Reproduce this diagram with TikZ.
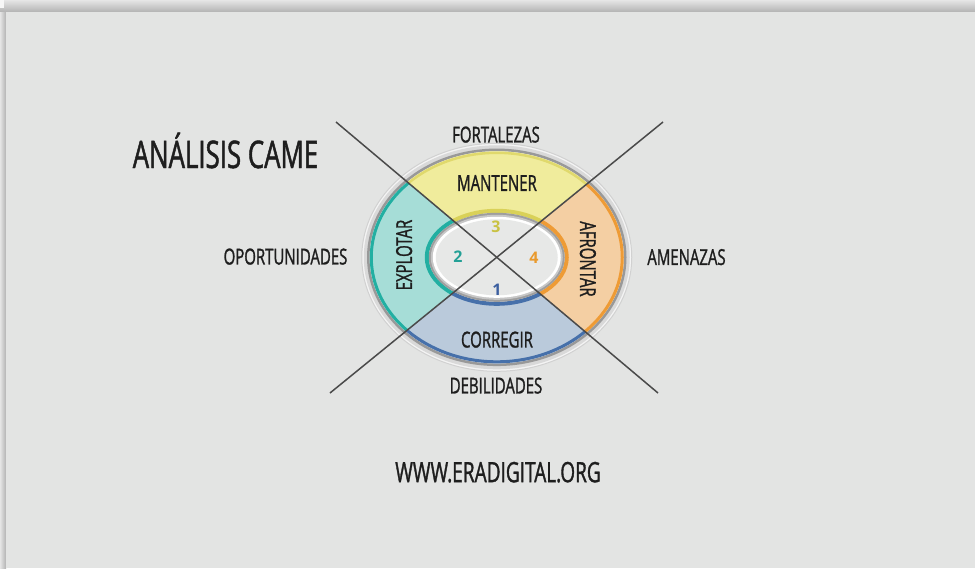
\documentclass[tikz,border=0pt]{standalone}
\usepackage{fontspec}
\newfontfamily\hand[FakeStretch=0.68,FakeBold=1.2]{Open Sans}
\newfontfamily\numfont{Open Sans}
\definecolor{bg}{HTML}{E3E4E3}
\definecolor{ink}{HTML}{1E1E1E}
\definecolor{linec}{HTML}{4A4A4A}
\definecolor{yelF}{HTML}{F0EC9C}
\definecolor{yelB}{HTML}{D9D158}
\definecolor{oraF}{HTML}{F4CFA3}
\definecolor{oraB}{HTML}{EE9B35}
\definecolor{bluF}{HTML}{BACADB}
\definecolor{bluB}{HTML}{4670AA}
\definecolor{teaF}{HTML}{A6DDD7}
\definecolor{teaB}{HTML}{22AFA2}
\definecolor{inF}{HTML}{E7E8E7}
\definecolor{n3}{HTML}{C9C243}
\definecolor{n2}{HTML}{23A096}
\definecolor{n4}{HTML}{E99A2E}
\definecolor{n1}{HTML}{3C5FA0}
\begin{document}
\begin{tikzpicture}[x=1pt,y=-1pt,
  lbl/.style={font=\hand\fontsize{22}{22}\selectfont, text=ink, inner sep=0pt, text depth=0pt},
  title/.style={font=\hand\fontsize{38}{38}\selectfont, text=ink, inner sep=0pt},
  web/.style={font=\hand\fontsize{28}{28}\selectfont, text=ink, inner sep=0pt, text depth=0pt},
  num/.style={font=\numfont\bfseries\fontsize{16}{16}\selectfont, inner sep=0pt, text depth=0pt},
  crossline/.style={draw=linec, line width=1.5pt},
  outerE/.style={x radius=127pt, y radius=106pt},
  innerE/.style={x radius=70pt, y radius=46.5pt}]
\useasboundingbox (0,0) rectangle (975,568);
% page and shadow
\fill[black!10] (0,0) rectangle (975,568);
\shade[top color=black!10, bottom color=black!30] (0,0) rectangle (975,12);
\shade[left color=black!10, right color=black!30] (0,12) rectangle (6,568);
\fill[white!70!black!10] (0,0) rectangle (4,8);
\fill[bg] (6,12) rectangle (975,568);
% key points
\coordinate (P1) at (336,122);
\coordinate (P2) at (663,122);
\coordinate (P3) at (658,393);
\coordinate (P4) at (330,393);
\coordinate (C) at (intersection of P1--P3 and P2--P4);
% halo
\fill[white!60!bg, draw=black!18, line width=1pt] (C) ellipse [x radius=135pt, y radius=114pt];
\draw[black!15, line width=6pt] (C) ellipse [x radius=130pt, y radius=109pt];
\draw[black!40, line width=2.5pt] (C) ellipse [x radius=128.5pt, y radius=107.5pt];
% sectors
\begin{scope}
  \clip (C) -- (P1) -- (P2) -- cycle;
  \fill[yelF, even odd rule] (C) ellipse [outerE] (C) ellipse [innerE];
  \draw[yelB!70!yelF, line width=2.5pt] (C) ellipse [x radius=125.5pt, y radius=104.5pt];
  \draw[yelB, line width=4pt] (C) ellipse [innerE];
\end{scope}
\begin{scope}
  \clip (C) -- (P2) -- (P3) -- cycle;
  \fill[oraF, even odd rule] (C) ellipse [outerE] (C) ellipse [innerE];
  \draw[oraB, line width=3pt] (C) ellipse [x radius=125.5pt, y radius=104.5pt];
  \draw[oraB, line width=4pt] (C) ellipse [innerE];
\end{scope}
\begin{scope}
  \clip (C) -- (P3) -- (P4) -- cycle;
  \fill[bluF, even odd rule] (C) ellipse [outerE] (C) ellipse [innerE];
  \draw[bluB, line width=3pt] (C) ellipse [x radius=125.5pt, y radius=104.5pt];
  \draw[bluB, line width=4pt] (C) ellipse [innerE];
\end{scope}
\begin{scope}
  \clip (C) -- (P4) -- (P1) -- cycle;
  \fill[teaF, even odd rule] (C) ellipse [outerE] (C) ellipse [innerE];
  \draw[teaB, line width=3pt] (C) ellipse [x radius=125.5pt, y radius=104.5pt];
  \draw[teaB, line width=4pt] (C) ellipse [innerE];
\end{scope}
% inner disk
\fill[black!38] (C) ellipse [x radius=68pt, y radius=44.5pt];
\fill[black!22] (C) ellipse [x radius=66pt, y radius=42.5pt];
\fill[white] (C) ellipse [x radius=64pt, y radius=40.5pt];
\fill[inF] (C) ellipse [x radius=61pt, y radius=38pt];
% crossing lines
\draw[crossline] (P1) -- (P3);
\draw[crossline] (P2) -- (P4);
% labels
\node[lbl] (fort) at (496,134.5) {FORTALEZAS};
\node[lbl] (deb) at (496,385.5) {DEBILIDADES};
\node[lbl] (opo) at (285.5,256.5) {OPORTUNIDADES};
\node[lbl] (ame) at (686.5,257) {AMENAZAS};
\node[lbl] (man) at (497,183) {MANTENER};
\node[lbl] (cor) at (497,339.5) {CORREGIR};
\node[lbl, rotate=90] (exp) at (404,255) {EXPLOTAR};
\node[lbl, rotate=-90] (afr) at (588,259) {AFRONTAR};
\node[num, text=n3] (n3) at (496,226.5) {3};
\node[num, text=n2] (n2) at (458,257) {2};
\node[num, text=n4] (n4) at (534,257.5) {4};
\node[num, text=n1] (n1) at (497,289.5) {1};
\node[title, anchor=base] (tit) at (225.5,168) {ANÁLISIS CAME};
\node[web] (www) at (498,472) {WWW.ERADIGITAL.ORG};
\end{tikzpicture}
\end{document}
